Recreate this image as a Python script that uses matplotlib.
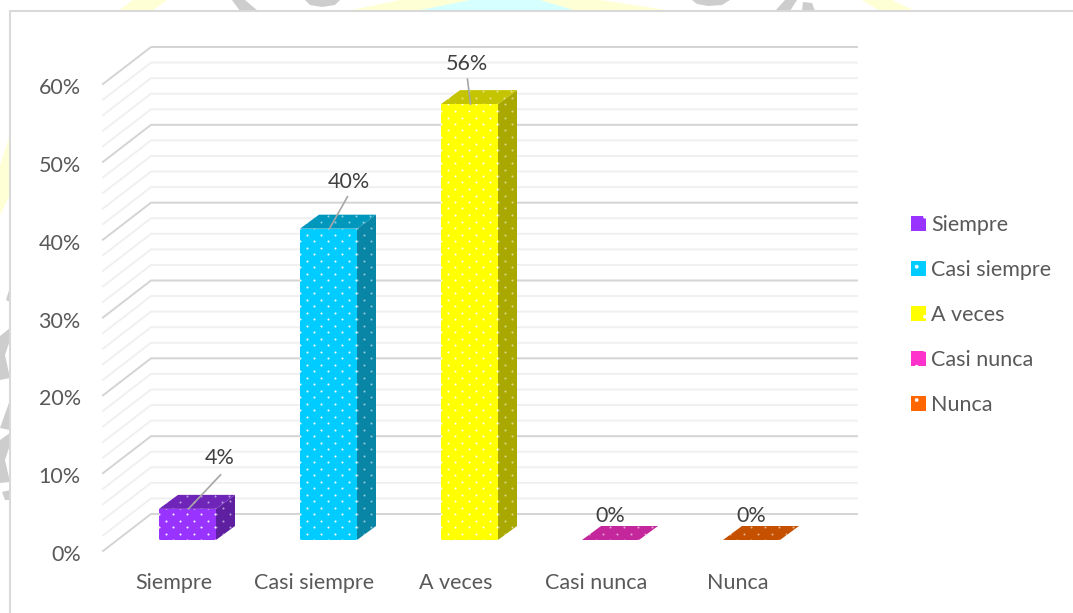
import matplotlib
matplotlib.use('Agg')
import matplotlib.pyplot as plt
import numpy as np
from matplotlib.patches import Patch, Polygon, Rectangle
from matplotlib.transforms import ScaledTranslation

plt.rcParams['font.family'] = ['Lato', 'DejaVu Sans']
plt.rcParams['hatch.linewidth'] = 0.3

# Datos
categorias = ['Siempre', 'Casi siempre', 'A veces', 'Casi nunca', 'Nunca']
valores = [4, 40, 56, 0, 0]
colores = ['#9933ff', '#00ccff', '#ffff00', '#ff33cc', '#ff6600']
color_top = ['#6f25b8', '#0097bd', '#c4c400', '#c4279c', '#c45000']
color_side = ['#5e20a0', '#0985a5', '#a8a800', '#a8208a', '#a84400']
ticks_y = [0, 10, 20, 30, 40, 50, 60]
ticks_menores = [2, 4, 6, 8, 12, 14, 16, 18, 22, 24, 26, 28, 32, 34, 36, 38, 42, 44, 46, 48, 52, 54, 56, 58]

W, H = 1073, 613
fig = plt.figure(figsize=(W / 100, H / 100), dpi=100)

# fondo: marco del grafico y restos de la marca de agua por fuera
bg = fig.add_axes([0, 0, 1, 1])
bg.set_xlim(0, W)
bg.set_ylim(H, 0)
bg.axis('off')
amarillo, cian, gris = '#ffffd6', '#d6ffff', '#cdcdcd'
restos = [
    ([(118, 11), (133, 0), (167, 0), (152, 11)], amarillo),
    ([(347, 11), (400, 0), (600, 0), (673, 11)], amarillo),
    ([(415, 11), (470, 0), (540, 0), (577, 11)], cian),
    ([(862, 0), (892, 0), (915, 11), (880, 11)], amarillo),
    ([(232, 0), (245, 0), (258, 11), (240, 11)], gris),
    ([(305, 0), (340, 0), (335, 5), (322, 7), (310, 5)], gris),
    ([(692, 0), (730, 0), (722, 5), (708, 6), (697, 4)], gris),
    ([(775, 11), (785, 0), (797, 0), (790, 11)], gris),
    ([(802, 11), (803, 2), (812, 3), (815, 11)], gris),
    ([(10, 135), (10, 195), (0, 215), (0, 165)], amarillo),
    ([(6, 300), (10, 287), (10, 302)], gris),
    ([(0, 336), (10, 328), (10, 340), (5, 355), (10, 378), (0, 380)], gris),
    ([(0, 428), (10, 400), (10, 430)], gris),
    ([(0, 440), (10, 433), (10, 445), (5, 460), (10, 482), (0, 483)], gris),
    ([(2, 492), (10, 490), (10, 500), (5, 500)], gris),
]
for puntos_fondo, c in restos:
    bg.add_patch(Polygon(puntos_fondo, fc=c, ec='none'))
bg.add_patch(Rectangle((10, 11), W + 20, H + 20, fc='white', ec='#d9d9d9', lw=1.5))

# Ejes sobre el plano frontal, en pixeles: x 103-808, y 551-84
ax = fig.add_axes([103 / W, 1 - 551 / H, 705 / W, 467 / H])
ax.patch.set_alpha(0)
ax.set_xlim(-0.5, 4.5)
ax.set_ylim(0, 60)
for s in ax.spines.values():
    s.set_visible(False)

px_x = 5 / 705  # unidades de categoria por pixel
px_y = 60 / 467  # unidades de % por pixel
dx, dy = 48 * px_x, 37 * px_y  # fondo de la caja
x_der = 4.5 + 49 * px_x


def rejilla(vals, color, lw):
    for v in vals:
        ax.plot([-0.5, -0.5 + dx, x_der], [v, v + dy, v + dy], color=color, lw=lw,
                clip_on=False, solid_joinstyle='miter', zorder=1)


def puntos(cara, color, alpha):
    # textura de puntos, recortada a la cara de la barra
    xy = cara.get_xy()
    filas = np.arange(xy[:, 1].min(), xy[:, 1].max() + 13 * px_y, 6.5 * px_y)
    for k, yf in enumerate(filas):
        xs = np.arange(xy[:, 0].min() + (k % 2) * 7 * px_x, xy[:, 0].max() + 14 * px_x, 14 * px_x)
        sc = ax.scatter(xs, np.full(len(xs), yf), s=2.2, color=color, alpha=alpha, lw=0, zorder=3.5)
        sc.set_clip_path(cara)


rejilla(ticks_menores, '#f0f0f0', 1.4)
rejilla(ticks_y, '#d4d4d4', 1.4)
ax.set_autoscale_on(False)

# Barras 3D
ancho = 57 * px_x
prof_x, prof_y = 19 * px_x, 14 * px_y
suelo_x, suelo_y = 14 * px_x, 11 * px_y
for i, v in enumerate(valores):
    x0 = i - ancho / 2 + suelo_x
    x1 = x0 + ancho
    y0 = suelo_y
    y1 = v + suelo_y
    cara_sup = [(x0, y1), (x1, y1), (x1 + prof_x, y1 + prof_y), (x0 + prof_x, y1 + prof_y)]
    cara_lat = [(x1, y0), (x1 + prof_x, y0 + prof_y), (x1 + prof_x, y1 + prof_y), (x1, y1)]
    lat = ax.add_patch(Polygon(cara_lat, fc=color_side[i], lw=0, clip_on=False, zorder=3))
    sup = ax.add_patch(Polygon(cara_sup, fc=color_top[i], lw=0, clip_on=False, zorder=3))
    puntos(lat, 'white', 0.55)
    puntos(sup, 'white', 0.55)
    if v > 0:
        fre = ax.add_patch(Polygon([(x0, y0), (x1, y0), (x1, y1), (x0, y1)], fc=colores[i], lw=0,
                                   clip_on=False, zorder=3))
        puntos(fre, 'white', 0.95)

# Etiquetas de datos, con linea guia en las que tienen valor
guia_px = [(32, 34), (18, 32), (-3, 25), None, None]
texto_px = [(31, 51), (19, 47), (-4, 40), (-1, 24), (-1, 24)]
for i, v in enumerate(valores):
    xc = i + suelo_x + 1 * px_x
    yc = v + suelo_y
    if guia_px[i] is not None:
        gx, gy = guia_px[i]
        ax.plot([xc, xc + gx * px_x], [yc, yc + gy * px_y], color='#a6a6a6', lw=1.2,
                clip_on=False, zorder=4)
    tx, ty = texto_px[i]
    ax.text(xc + tx * px_x, yc + ty * px_y, f'{v}%', ha='center', va='center',
            fontsize=15.5, color='#404040', clip_on=False, zorder=5)

ax.set_xticks(range(5))
ax.set_xticklabels(categorias, fontsize=15.5, color='#595959')
ax.set_yticks(ticks_y)
ax.set_yticklabels([f'{t}%' for t in ticks_y], fontsize=15.5, color='#595959')
ax.tick_params(axis='x', length=0, pad=16)
ax.tick_params(axis='y', length=0, pad=16)
# las etiquetas del eje y quedan 2 px por debajo de la linea
for t in ax.get_yticklabels():
    t.set_transform(t.get_transform() + ScaledTranslation(0, -2 / 100, fig.dpi_scale_trans))

handles = [Patch(fc=c, ec='white', hatch='.', lw=0) for c in colores]
ax.legend(handles, categorias, loc='center left', bbox_to_anchor=((911 - 103) / 705, (551 - 315) / 467),
          frameon=False, fontsize=15.5, labelcolor='#595959', handlelength=0.7, handleheight=0.7,
          handletextpad=0.25, labelspacing=1.155, borderpad=0, borderaxespad=0)

fig.savefig('out.png', dpi=100)
